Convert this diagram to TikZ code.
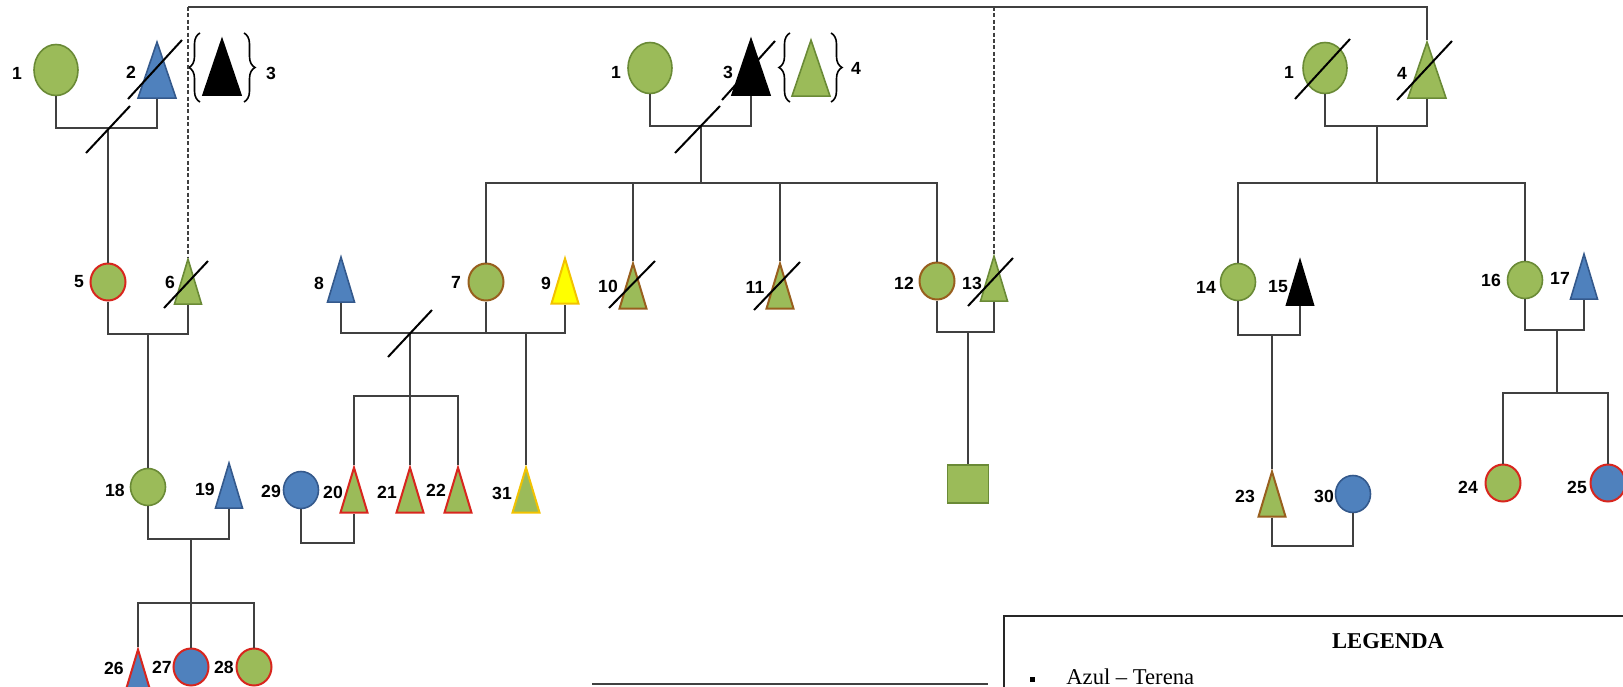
\documentclass[tikz,border=0pt]{standalone}
\usepackage{fontspec}
\setmainfont{Liberation Serif}
\newfontfamily\numfont{Liberation Sans}
\usetikzlibrary{shapes.geometric,decorations.pathreplacing}

\definecolor{verde}{HTML}{9BBB59}
\definecolor{verdeesc}{HTML}{6A8A36}
\definecolor{azul}{HTML}{4F81BD}
\definecolor{azulesc}{HTML}{34598C}
\definecolor{vermelho}{HTML}{D8261E}
\definecolor{marrom}{HTML}{985F1E}
\definecolor{amarelo}{HTML}{FFFF00}
\definecolor{ouro}{HTML}{F2C200}
\definecolor{linha}{HTML}{404040}

\tikzset{
  mulher/.style={ellipse, draw, line width=0.8pt, inner sep=0pt, minimum width=17.5pt, minimum height=18.5pt},
  mulhergr/.style={mulher, minimum width=22pt, minimum height=25.5pt},
  homem/.style={isosceles triangle, isosceles triangle stretches, shape border rotate=90, anchor=apex, draw, line width=0.8pt, inner sep=0pt, minimum width=13.5pt, minimum height=22.5pt},
  homemgr/.style={homem, minimum width=19pt, minimum height=28pt},
  quad/.style={rectangle, draw, line width=0.8pt, inner sep=0pt, minimum width=20.5pt, minimum height=19pt},
  verdef/.style={fill=verde, draw=verdeesc},
  azulf/.style={fill=azul, draw=azulesc},
  negro/.style={fill=black, draw=black},
  amarf/.style={fill=amarelo, draw=ouro},
  bver/.style={draw=vermelho, line width=1pt},
  bmar/.style={draw=marrom, line width=1pt},
  bouro/.style={draw=ouro, line width=1pt},
  num/.style={font=\numfont\bfseries\fontsize{8.8}{10}\selectfont, inner sep=0pt},
  liga/.style={draw=linha, line width=0.6pt},
  tracejado/.style={liga, dash pattern=on 2pt off 1.2pt},
  corte/.style={line width=1pt, black},
  chave/.style={decorate, decoration={brace, amplitude=5.5pt}, line width=0.8pt}
}

\begin{document}
\begin{tikzpicture}[x=0.5pt, y=-0.5pt]
  \useasboundingbox (0,0) rectangle (1623,686);
  \clip (0,0) rectangle (1623,686);

  % first generation, three families (triangles sit on their apex)
  \node[mulhergr, verdef] (la1) at (56,70) {};
  \node[homemgr, azulf] (la2) at (157,40) {};
  \node[homemgr, negro] (la3) at (222,37) {};
  \node[mulhergr, verdef] (ma1) at (650,68) {};
  \node[homemgr, negro] (ma3) at (751,37) {};
  \node[homemgr, verdef] (ma4) at (811,38) {};
  \node[mulhergr, verdef] (ra1) at (1325,68) {};
  \node[homemgr, verdef] (ra4) at (1427,40) {};

  \node[num] (tla1) at (17,73) {1};
  \node[num] (tla2) at (131,72) {2};
  \node[num] (tla3) at (271,73) {3};
  \node[num] (tma1) at (616,72) {1};
  \node[num] (tma3) at (728,72) {3};
  \node[num] (tma4) at (856,68) {4};
  \node[num] (tra1) at (1289,72) {1};
  \node[num] (tra4) at (1402,73) {4};

  \draw[chave] (200,102) -- (200,33);
  \draw[chave] (244,33) -- (244,102);
  \draw[chave] (790,102) -- (790,33);
  \draw[chave] (831,33) -- (831,102);

  % second generation
  \node[mulher, fill=verde, bver] (p5) at (108,282) {};
  \node[homem, verdef] (p6) at (188,257) {};
  \node[homem, azulf] (p8) at (341,255) {};
  \node[mulher, fill=verde, bmar] (p7) at (486,282) {};
  \node[homem, amarf, bouro] (p9) at (565,256) {};
  \node[homem, fill=verde, bmar] (p10) at (633,261) {};
  \node[homem, fill=verde, bmar] (p11) at (780,261) {};
  \node[mulher, fill=verde, bmar] (p12) at (937,281) {};
  \node[homem, verdef] (p13) at (994,254) {};
  \node[mulher, verdef] (p14) at (1238,282) {};
  \node[homem, negro] (p15) at (1300,258) {};
  \node[mulher, verdef] (p16) at (1525,280) {};
  \node[homem, azulf] (p17) at (1584,252) {};

  \node[num] (t5) at (79,282) {5};
  \node[num] (t6) at (170,282) {6};
  \node[num] (t8) at (319,283) {8};
  \node[num] (t7) at (456,282) {7};
  \node[num] (t9) at (546,283) {9};
  \node[num] (t10) at (608,286) {10};
  \node[num] (t11) at (755,287) {11};
  \node[num] (t12) at (904,283) {12};
  \node[num] (t13) at (972,283) {13};
  \node[num] (t14) at (1206,287) {14};
  \node[num] (t15) at (1278,287) {15};
  \node[num] (t16) at (1491,280) {16};
  \node[num] (t17) at (1560,278) {17};

  % third generation
  \node[mulher, verdef] (p18) at (148,487) {};
  \node[homem, azulf] (p19) at (229,461) {};
  \node[mulher, azulf] (p29) at (301,490) {};
  \node[homem, fill=verde, bver] (p20) at (354,465) {};
  \node[homem, fill=verde, bver] (p21) at (410,465) {};
  \node[homem, fill=verde, bver] (p22) at (458,465) {};
  \node[homem, fill=verde, bouro] (p31) at (526,465) {};
  \node[quad, verdef] (q1) at (968,484) {};
  \node[homem, fill=verde, bmar] (p23) at (1272,469) {};
  \node[mulher, azulf] (p30) at (1353,494) {};
  \node[mulher, fill=verde, bver] (p24) at (1503,483) {};
  \node[mulher, fill=azul, bver] (p25) at (1608,483) {};

  \node[num] (t18) at (115,490) {18};
  \node[num] (t19) at (205,489) {19};
  \node[num] (t29) at (271,491) {29};
  \node[num] (t20) at (333,492) {20};
  \node[num] (t21) at (387,492) {21};
  \node[num] (t22) at (436,490) {22};
  \node[num] (t31) at (502,493) {31};
  \node[num] (t23) at (1245,496) {23};
  \node[num] (t30) at (1324,496) {30};
  \node[num] (t24) at (1468,487) {24};
  \node[num] (t25) at (1577,487) {25};

  % fourth generation
  \node[homem, fill=azul, bver] (p26) at (138,647) {};
  \node[mulher, fill=azul, bver] (p27) at (191,667) {};
  \node[mulher, fill=verde, bver] (p28) at (254,667) {};

  \node[num] (t26) at (114,668) {26};
  \node[num] (t27) at (162,667) {27};
  \node[num] (t28) at (224,667) {28};

  % junctions
  \coordinate (topo) at (189,7);
  \coordinate (ula) at (108,128);
  \coordinate (uma) at (701,126);
  \coordinate (sma) at (701,183);
  \coordinate (ura) at (1377,126);
  \coordinate (sra) at (1377,183);
  \coordinate (u56) at (148,334);
  \coordinate (u87) at (410,333);
  \coordinate (u79) at (526,333);
  \coordinate (s87) at (410,396);
  \coordinate (u1213) at (968,332);
  \coordinate (u1415) at (1272,335);
  \coordinate (u1617) at (1557,330);
  \coordinate (s1617) at (1557,393);
  \coordinate (u1819) at (191,539);
  \coordinate (s1819) at (191,603);
  \coordinate (u2920) at (327,543);
  \coordinate (u2330) at (1313,546);

  % marriages and descent
  \draw[liga] (la1.south) |- (ula) -| (la2.lower side);
  \draw[liga] (ula) -- (p5.north);
  \draw[liga] (ma1.south) |- (uma) -| (ma3.lower side);
  \draw[liga] (uma) -- (sma);
  \draw[liga] (p7.north) -- (p7.north |- sma) -- (p12.north |- sma) -- (p12.north);
  \draw[liga] (p10.apex) -- (p10.apex |- sma);
  \draw[liga] (p11.apex) -- (p11.apex |- sma);
  \draw[liga] (ra1.south) |- (ura) -| (ra4.lower side);
  \draw[liga] (ura) -- (sra);
  \draw[liga] (p14.north) -- (p14.north |- sra) -- (p16.north |- sra) -- (p16.north);

  \draw[liga] (p6.apex |- topo) -| (ra4.apex);
  \draw[tracejado] (p6.apex |- topo) -- (p6.apex);
  \draw[tracejado] (p13.apex |- topo) -- (p13.apex);

  \draw[liga] (p5.south) |- (u56) -| (p6.lower side);
  \draw[liga] (u56) -- (p18.north);
  \draw[liga] (p8.lower side) |- (u79) -| (p9.lower side);
  \draw[liga] (p7.south) -- (p7.south |- u79);
  \draw[liga] (u87) -- (s87);
  \draw[liga] (p20.apex) -- (p20.apex |- s87) -- (p22.apex |- s87) -- (p22.apex);
  \draw[liga] (p21.apex) -- (p21.apex |- s87);
  \draw[liga] (u79) -- (p31.apex);
  \draw[liga] (p12.south) |- (u1213) -| (p13.lower side);
  \draw[liga] (u1213) -- (q1.north);
  \draw[liga] (p14.south) |- (u1415) -| (p15.lower side);
  \draw[liga] (u1415) -- (p23.apex);
  \draw[liga] (p16.south) |- (u1617) -| (p17.lower side);
  \draw[liga] (u1617) -- (s1617);
  \draw[liga] (p24.north) -- (p24.north |- s1617) -- (p25.north |- s1617) -- (p25.north);

  \draw[liga] (p18.south) |- (u1819) -| (p19.lower side);
  \draw[liga] (u1819) -- (s1819);
  \draw[liga] (p26.apex) -- (p26.apex |- s1819) -- (p28.north |- s1819) -- (p28.north);
  \draw[liga] (p27.north) -- (p27.north |- s1819);
  \draw[liga] (p29.south) |- (u2920) -| (p20.lower side);
  \draw[liga] (p23.lower side) |- (u2330) -| (p30.south);

  % deaths and separations
  \draw[corte] (la2.apex) +(-29,59) -- +(25,0);
  \draw[corte] (ula) +(-22,25) -- +(22,-22);
  \draw[corte] (uma) +(-26,27) -- +(19,-20);
  \draw[corte] (ma3.apex) +(-29,63) -- +(24,4);
  \draw[corte] (ra1) +(-30,31) -- +(25,-29);
  \draw[corte] (ra4.apex) +(-30,60) -- +(25,1);
  \draw[corte] (p6.apex) +(-24,51) -- +(20,4);
  \draw[corte] (u87) +(-22,24) -- +(22,-23);
  \draw[corte] (p10.apex) +(-24,47) -- +(22,0);
  \draw[corte] (p11.apex) +(-26,49) -- +(20,1);
  \draw[corte] (p13.apex) +(-26,52) -- +(19,4);

  % legend
  \draw[line width=0.9pt, black!85] (1004,616) rectangle (1700,760);
  \node[font=\bfseries\fontsize{11.3}{13}\selectfont, inner sep=0pt] (leg) at (1388,641) {LEGENDA};
  \node[fill=black, inner sep=0pt, minimum size=2.5pt] (mk) at (1032,679) {};
  \node[anchor=base west, font=\fontsize{11.3}{13}\selectfont, inner sep=0pt] (az) at (1066,684) {Azul -- Terena};
  \draw[linha, line width=0.8pt] (592,684) -- (988,684);
\end{tikzpicture}
\end{document}
